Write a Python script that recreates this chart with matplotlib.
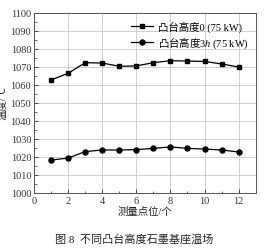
import matplotlib
matplotlib.use("Agg")
import matplotlib.pyplot as plt
from matplotlib.ticker import MultipleLocator

plt.rcParams['font.family'] = ['Liberation Serif', 'Noto Sans CJK SC']
plt.rcParams['mathtext.fontset'] = 'custom'
plt.rcParams['mathtext.rm'] = 'Noto Sans CJK SC'
plt.rcParams['mathtext.sf'] = 'Liberation Serif'
plt.rcParams['mathtext.it'] = 'Liberation Serif:italic'

points = [1, 2, 3, 4, 5, 6, 7, 8, 9, 10, 11, 12]
height0 = [1062.8, 1066.5, 1072.4, 1072.2, 1070.4, 1070.6, 1072.4, 1073.5, 1073.3, 1073.1, 1071.7, 1070.0]
height3h = [1018.3, 1019.4, 1023.0, 1023.9, 1023.9, 1024.1, 1024.8, 1025.6, 1024.8, 1024.4, 1023.9, 1022.8]
label0 = "凸台高度0 (75 kW)"
label3h = r"$\mathrm{凸台高度}\mathsf{3}\mathit{h}\ \mathsf{(75\ kW)}$"
xlabel = "测量点位/个"
ylabel = "温度/℃"
caption = "图 8  不同凸台高度石墨基座温场"

fig = plt.figure(figsize=(2.69, 2.51), dpi=100)
ax = fig.add_axes([34/269, 1-194/251, (255.7-34)/269, (194-14)/251])

ax.plot(points, height0, color='black', lw=0.9, marker='s', ms=3.2, label=label0)
ax.plot(points, height3h, color='black', lw=0.9, marker='o', ms=3.6, label=label3h)

ax.set_xlim(0, 13)
ax.set_ylim(1000, 1100)
ax.xaxis.set_major_locator(MultipleLocator(2))
ax.xaxis.set_minor_locator(MultipleLocator(1))
ax.yaxis.set_major_locator(MultipleLocator(10))
ax.yaxis.set_minor_locator(MultipleLocator(5))
ax.tick_params(which='both', direction='in', labelsize=7.5, colors='#333333', pad=2)
ax.tick_params(which='major', length=3, width=0.6)
ax.tick_params(which='minor', length=1.8, width=0.5)
ax.grid(True, which='major', color='#c8c8c8', lw=0.6)
ax.set_axisbelow(True)
for s in ax.spines.values():
    s.set_color('#555555')
    s.set_linewidth(0.7)

ax.set_xlabel(xlabel, fontsize=7.5, labelpad=1, color='#222222')
fig.text(0.013, 1-103/251, ylabel, rotation=90, ha='center', va='center', fontsize=7.5, color='#222222')

leg = ax.legend(loc='upper right', frameon=False, fontsize=7.5, handlelength=2.2,
                handletextpad=0.4, labelspacing=0.3, borderaxespad=0.3)

fig.text(0.5, 1-239/251, caption, ha='center', va='center', fontsize=8, color='#222222')

fig.savefig("out.png", dpi=100)
